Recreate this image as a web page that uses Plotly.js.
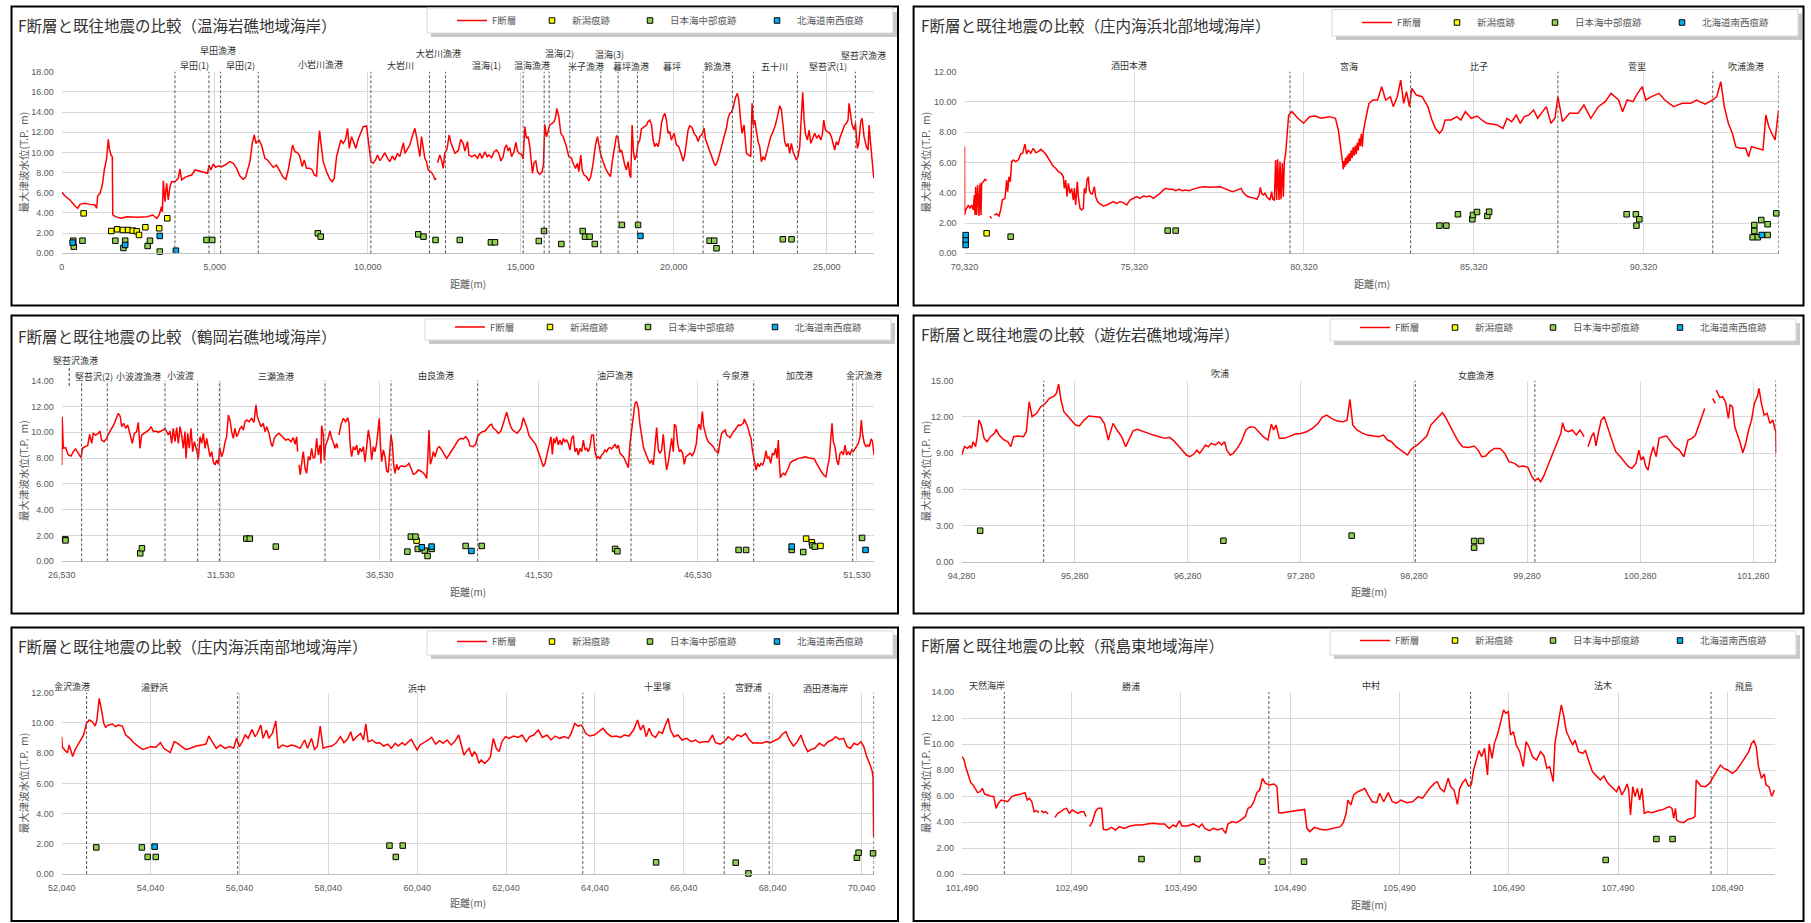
<!DOCTYPE html>
<html>
<head>
<meta charset="utf-8">
<script src="https://cdn.plot.ly/plotly-3.0.1.min.js"></script>
<style>
html, body { margin: 0; padding: 0; background: #ffffff; }
#chart { width: 1811px; height: 923px; }
</style>
</head>
<body>
<div id="chart"></div>
<script>
// ---------------------------------------------------------------
// Data: [distance (m), maximum tsunami level (T.P. m)]
// ---------------------------------------------------------------

// 温海岩礁地域海岸
const atsumiProfile = [[0,6.01],[20,6.01],[108,5.68],[271,5.28],[434,4.68],[521,4.46],[598,4.85],[761,4.95],[924,4.85],[1088,4.79],[1142,4.46],[1175,5.68],[1251,5.94],[1327,6.77],[1393,8.26],[1469,9.41],[1523,11.30],[1556,10.40],[1610,9.74],[1654,9.58],[1670,3.80],[1753,3.63],[1942,3.47],[2131,3.63],[2508,3.57],[2790,3.63],[2979,3.80],[3111,3.47],[3186,3.80],[3262,4.62],[3290,4.10],[3320,7.20],[3374,5.12],[3429,6.93],[3483,5.28],[3538,6.60],[3592,7.10],[3701,7.10],[3810,7.43],[3864,8.36],[3919,7.27],[4028,7.53],[4137,7.66],[4246,7.76],[4354,8.26],[4463,8.19],[4627,8.09],[4768,7.93],[4812,8.75],[4877,8.26],[4953,8.85],[5030,8.52],[5117,8.65],[5226,8.59],[5334,8.75],[5498,9.08],[5607,8.92],[5716,8.42],[5824,7.66],[5933,7.33],[6009,7.53],[6075,8.26],[6151,9.08],[6227,10.90],[6293,11.73],[6347,10.90],[6445,11.23],[6532,10.73],[6641,9.41],[6728,9.25],[6804,8.92],[6913,8.52],[7022,8.75],[7131,8.09],[7240,7.53],[7327,7.33],[7403,8.26],[7490,9.74],[7545,10.73],[7621,10.07],[7708,9.97],[7784,9.58],[7861,8.59],[7926,9.25],[8002,8.42],[8111,8.42],[8187,8.26],[8253,7.76],[8329,7.66],[8383,10.57],[8427,12.16],[8471,10.90],[8547,9.08],[8656,8.09],[8765,7.33],[8841,7.10],[8906,7.43],[8983,9.58],[9059,10.57],[9124,11.23],[9200,10.90],[9277,11.30],[9342,12.39],[9397,10.40],[9473,11.56],[9549,10.96],[9614,10.40],[9690,11.30],[9777,12.06],[9853,12.55],[9962,12.62],[10038,10.57],[10104,9.08],[10180,8.92],[10256,9.25],[10321,9.74],[10398,9.18],[10474,9.51],[10561,9.97],[10648,9.41],[10725,9.08],[10801,9.64],[10888,9.25],[10975,9.91],[11051,9.58],[11105,10.24],[11171,10.96],[11214,9.91],[11301,10.40],[11377,10.73],[11454,11.56],[11541,12.39],[11606,11.39],[11650,10.40],[11705,9.58],[11759,11.56],[11813,10.40],[11868,9.41],[11922,9.08],[11977,8.26],[12064,8.09],[12140,7.76],[12195,7.33],[12249,7.43],[12265,null],[12281,8.98],[12358,9.74],[12412,9.25],[12467,8.42],[12521,9.91],[12597,10.40],[12663,11.73],[12717,10.96],[12793,10.40],[12848,9.91],[12957,10.17],[13044,11.30],[13120,10.90],[13175,10.14],[13262,11.07],[13306,9.74],[13393,9.58],[13502,9.74],[13589,9.41],[13665,9.91],[13741,9.41],[13828,10.07],[13905,9.58],[13959,9.74],[14046,9.48],[14133,10.07],[14209,10.24],[14286,9.91],[14351,9.15],[14427,9.58],[14482,10.47],[14536,10.74],[14591,10.14],[14645,10.47],[14700,9.58],[14776,10.01],[14841,11.00],[14896,10.14],[14950,9.91],[15026,9.81],[15081,9.35],[15135,12.55],[15190,11.40],[15244,11.56],[15298,10.57],[15353,9.25],[15385,7.93],[15440,9.02],[15494,9.15],[15549,8.09],[15625,7.83],[15701,8.09],[15745,8.82],[15788,12.78],[15843,11.56],[15897,12.12],[15952,12.72],[16028,12.88],[16093,13.05],[16137,13.44],[16180,14.37],[16246,13.54],[16311,11.89],[16387,11.56],[16442,11.07],[16496,10.57],[16572,9.58],[16659,9.41],[16714,8.92],[16790,8.42],[16855,8.92],[16899,8.09],[16964,9.74],[17008,8.26],[17073,7.76],[17150,7.60],[17226,7.17],[17291,7.60],[17367,8.92],[17444,10.74],[17509,11.56],[17563,10.57],[17618,9.74],[17694,9.08],[17771,8.42],[17857,7.93],[17934,7.60],[17988,9.02],[18053,10.40],[18130,11.66],[18184,11.46],[18238,10.01],[18293,10.24],[18347,9.41],[18402,8.75],[18456,8.26],[18511,9.08],[18565,7.76],[18598,7.50],[18641,12.72],[18685,10.07],[18728,9.25],[18783,9.74],[18837,10.90],[18892,11.23],[18946,12.32],[19033,12.55],[19110,12.72],[19164,13.05],[19218,13.21],[19273,12.78],[19328,11.23],[19382,10.57],[19436,10.90],[19491,10.57],[19545,11.40],[19600,12.88],[19654,13.54],[19709,13.87],[19763,13.21],[19817,11.89],[19872,12.06],[19926,11.23],[20013,11.89],[20090,10.74],[20166,10.57],[20253,9.74],[20307,9.15],[20362,9.74],[20416,11.07],[20471,12.22],[20525,12.65],[20601,12.45],[20667,11.89],[20743,11.56],[20798,11.07],[20852,11.56],[20928,11.79],[20994,12.39],[21037,11.33],[21102,10.74],[21179,10.24],[21255,9.58],[21320,8.92],[21364,8.69],[21429,9.08],[21505,9.91],[21582,10.90],[21647,11.56],[21723,12.39],[21777,13.38],[21832,13.87],[21886,13.97],[21952,14.53],[22017,15.43],[22082,15.86],[22126,15.20],[22191,13.05],[22235,11.89],[22300,12.72],[22376,9.91],[22452,9.74],[22518,9.58],[22561,14.86],[22605,12.72],[22648,13.21],[22703,11.89],[22757,11.07],[22812,10.57],[22866,9.08],[22921,9.58],[22975,9.25],[23030,9.91],[23106,10.74],[23171,11.56],[23247,12.06],[23324,12.72],[23389,13.54],[23466,14.63],[23520,14.20],[23575,12.39],[23629,11.07],[23683,10.57],[23738,10.90],[23792,9.91],[23847,10.90],[23901,10.07],[23955,9.58],[24010,9.25],[24064,9.58],[24119,10.57],[24174,13.71],[24217,15.95],[24261,13.21],[24304,11.89],[24369,11.23],[24424,12.22],[24479,10.90],[24555,11.56],[24609,11.89],[24674,11.40],[24740,11.73],[24805,11.23],[24859,11.79],[24903,13.21],[24957,12.22],[25023,12.06],[25099,11.89],[25153,11.56],[25208,10.90],[25262,10.24],[25317,11.07],[25371,10.74],[25426,11.40],[25480,11.89],[25535,12.22],[25589,12.72],[25644,12.88],[25698,13.21],[25731,14.86],[25786,13.54],[25830,12.72],[25895,12.22],[25938,12.88],[26003,10.40],[26047,10.90],[26112,13.05],[26156,13.38],[26221,11.56],[26297,10.57],[26352,10.24],[26385,12.72],[26439,10.74],[26483,9.25],[26515,8.09],[26540,7.43]];
const atsumiNiigata = [[716,3.96],[1621,2.21],[1810,2.38],[1999,2.31],[2168,2.31],[2319,2.25],[2451,2.18],[2526,1.82],[2734,2.58],[3186,2.48],[3450,3.47]];
const atsumiChubu = [[377,1.25],[396,0.66],[679,1.25],[1753,1.25],[2017,0.53],[2074,1.25],[2809,0.73],[2885,1.25],[3205,0.17],[4732,1.32],[4921,1.32],[8371,1.98],[8466,1.65],[11652,1.88],[11822,1.65],[12217,1.32],[13009,1.32],[14027,1.09],[14160,1.09],[15592,1.22],[15762,2.21],[16328,0.92],[17025,2.21],[17101,1.65],[17252,1.65],[17421,0.92],[18307,2.81],[18835,2.81],[21173,1.25],[21324,1.25],[21399,0.50],[23568,1.39],[23851,1.39]];
const atsumiNansei = [[358,1.06],[2074,0.83],[3205,1.72],[3733,0.26],[18911,1.72]];
const atsumiBounds = [3701,4812,5193,6423,10104,12020,12543,15081,15767,15930,16605,17618,18184,18815,20961,21919,22605,24042,25937];
const atsumiPlaces = ['早田漁港','早田(1)','早田(2)','小岩川漁港','大岩川','大岩川漁港','温海(1)','温海漁港','温海(2)','米子漁港','温海(3)','暮坪漁港','暮坪','鈴漁港','五十川','堅苔沢(1)','堅苔沢漁港'];
const atsumiPlaceDist = [5109,4336,5845,8447,11086,12312,13877,15385,16271,17120,17911,18590,19948,21418,23285,25038,26207];

// 庄内海浜北部地域海岸
const northProfile = [[70320,7.05],[70325,2.53],[70354,2.86],[70394,3.08],[70433,3.19],[70482,2.97],[70531,3.19],[70580,2.86],[70610,3.85],[70629,2.53],[70649,4.40],[70678,2.53],[70708,4.51],[70747,2.46],[70777,4.62],[70806,2.53],[70826,4.62],[70875,4.73],[70924,4.89],[70973,4.80],[71020,null],[71071,2.46],[71120,2.31],[71160,null],[71199,2.53],[71268,2.60],[71336,2.46],[71385,2.86],[71434,3.52],[71513,3.63],[71562,4.84],[71592,4.07],[71631,5.06],[71670,4.73],[71709,6.06],[71759,6.17],[71827,6.06],[71906,6.17],[71975,6.56],[72033,6.61],[72102,7.22],[72151,6.56],[72200,6.83],[72269,6.61],[72348,6.94],[72416,6.65],[72495,6.72],[72573,6.87],[72642,6.72],[72711,6.56],[72790,6.28],[72868,5.95],[72937,5.73],[73006,5.62],[73084,5.40],[73163,5.30],[73232,5.06],[73261,4.29],[73300,4.84],[73340,3.74],[73379,4.62],[73428,3.96],[73477,4.29],[73526,3.52],[73556,4.29],[73595,3.19],[73644,4.73],[73674,3.74],[73723,2.97],[73772,2.86],[73821,2.97],[73850,4.29],[73889,3.96],[73929,4.84],[73968,5.06],[73998,4.18],[74037,3.96],[74086,3.92],[74145,4.40],[74184,3.74],[74243,3.41],[74312,3.26],[74410,3.13],[74508,3.19],[74607,3.30],[74705,3.41],[74803,3.30],[74901,3.41],[75000,3.35],[75097,3.19],[75196,3.52],[75294,3.63],[75392,3.74],[75490,3.63],[75588,3.79],[75687,3.74],[75785,3.79],[75883,3.63],[75981,3.79],[76079,3.96],[76178,4.18],[76246,4.29],[76344,4.23],[76442,4.23],[76541,4.14],[76639,4.23],[76737,4.14],[76836,4.18],[76934,4.14],[77032,4.23],[77130,4.29],[77258,4.36],[77405,4.40],[77552,4.36],[77700,4.36],[77847,4.40],[77975,4.29],[78092,4.18],[78210,4.07],[78308,4.14],[78407,4.23],[78466,4.29],[78534,4.01],[78603,3.85],[78682,3.74],[78780,3.70],[78878,3.63],[78937,3.57],[78996,3.85],[79035,4.36],[79074,3.96],[79124,3.85],[79173,3.96],[79222,3.74],[79271,3.63],[79320,3.52],[79369,4.07],[79399,3.57],[79448,3.52],[79487,6.17],[79516,3.52],[79546,6.21],[79585,3.52],[79615,6.06],[79644,3.57],[79683,5.95],[79713,3.74],[79742,6.06],[79782,6.61],[79811,7.49],[79840,8.04],[79869,9.14],[79971,9.36],[80056,9.14],[80141,8.92],[80311,8.59],[80482,9.03],[80652,9.07],[80822,8.92],[81077,9.03],[81247,8.92],[81333,8.15],[81412,6.94],[81461,5.95],[81480,5.55],[81500,6.10],[81520,5.70],[81545,6.30],[81570,5.85],[81600,6.45],[81625,5.95],[81650,6.60],[81680,6.10],[81710,6.80],[81740,6.30],[81770,7.00],[81800,6.45],[81830,7.10],[81860,6.55],[81890,7.30],[81920,6.80],[81950,7.60],[81980,7.10],[82010,7.90],[82040,7.05],[82070,8.04],[82133,8.81],[82235,9.91],[82354,10.13],[82490,10.13],[82609,11.01],[82728,10.13],[82865,10.35],[82950,9.69],[83069,10.35],[83171,11.45],[83256,9.91],[83341,10.68],[83426,9.69],[83494,10.90],[83630,10.46],[83801,10.35],[83971,9.69],[84090,8.81],[84192,8.26],[84311,7.93],[84396,8.15],[84481,8.81],[84652,8.81],[84822,9.03],[84941,8.81],[85077,9.36],[85247,8.92],[85418,9.07],[85588,8.76],[85707,8.59],[85843,8.54],[86013,8.48],[86184,8.26],[86303,8.92],[86439,8.70],[86575,9.14],[86694,8.59],[86813,9.03],[86950,9.14],[87086,9.47],[87205,8.92],[87324,9.25],[87460,9.69],[87596,8.59],[87715,8.92],[87801,10.35],[87937,8.70],[88141,9.25],[88396,9.25],[88567,9.80],[88771,8.92],[88992,9.69],[89196,10.02],[89366,10.57],[89588,10.13],[89707,9.36],[89843,10.13],[90013,10.02],[90149,10.57],[90286,11.01],[90388,10.13],[90558,10.35],[90779,10.57],[90950,10.13],[91205,9.69],[91460,9.91],[91715,9.91],[91886,10.13],[92141,9.86],[92362,10.13],[92481,10.35],[92601,11.34],[92703,9.69],[92822,8.59],[92941,7.93],[93043,7.05],[93162,6.94],[93332,6.94],[93418,6.38],[93503,7.05],[93673,6.94],[93843,6.83],[93928,9.14],[94013,8.37],[94099,7.93],[94200,7.49],[94300,9.47]];
const northNiigata = [[70973,1.32]];
const northChubu = [[71680,1.10],[76305,1.50],[76541,1.50],[84311,1.83],[84515,1.83],[84856,2.58],[85281,2.25],[85298,2.53],[85418,2.73],[85724,2.47],[85775,2.75],[89826,2.58],[90098,2.58],[90200,2.25],[90115,1.83],[93588,1.87],[93792,2.20],[93979,1.92],[93588,1.48],[93537,1.06],[93690,1.06],[93979,1.21],[94235,2.64]];
const northNansei = [[70354,1.20],[70354,0.85],[70354,0.55],[93809,1.21]];
const northBounds = [79909,83462,87801,92364,94300];
const northPlaces = ['酒田本港','宮海','比子','菅里','吹浦漁港'];
const northPlaceDist = [75170,81659,85488,90132,93352];

// 鶴岡岩礁地域海岸
const tsuruokaProfile = [[26532,7.47],[26545,11.21],[26581,8.76],[26654,8.81],[26738,8.24],[26822,8.16],[26895,8.50],[26969,8.71],[27053,8.37],[27136,8.03],[27189,8.76],[27262,8.89],[27346,8.96],[27409,9.84],[27472,9.14],[27524,9.92],[27597,9.79],[27681,9.92],[27734,10.10],[27786,9.40],[27860,9.27],[27943,9.53],[27996,9.84],[28048,10.05],[28101,10.31],[28163,10.57],[28226,10.95],[28310,11.47],[28373,11.21],[28415,10.44],[28478,10.70],[28541,10.31],[28604,10.57],[28677,9.84],[28750,9.14],[28813,9.92],[28887,10.05],[28939,10.77],[28991,8.76],[29044,9.79],[29128,9.92],[29201,10.05],[29274,10.18],[29337,10.44],[29411,10.05],[29484,10.10],[29568,10.00],[29652,10.10],[29725,10.18],[29777,10.31],[29840,10.05],[29882,9.79],[29935,10.10],[29987,9.14],[30039,10.31],[30092,9.27],[30144,10.36],[30197,9.14],[30249,10.44],[30301,9.79],[30354,8.76],[30406,10.05],[30438,7.98],[30490,9.92],[30542,8.76],[30595,10.31],[30647,8.50],[30700,9.27],[30773,8.63],[30825,7.93],[30878,9.66],[30930,9.14],[30983,9.92],[31035,8.76],[31088,9.53],[31140,8.89],[31192,8.11],[31245,8.50],[31297,7.72],[31349,7.47],[31402,7.85],[31454,7.52],[31496,8.81],[31559,8.11],[31611,8.50],[31664,9.22],[31716,9.66],[31769,11.34],[31821,10.95],[31873,10.05],[31926,9.53],[31978,10.31],[32031,9.66],[32083,9.92],[32136,10.31],[32188,10.44],[32240,10.18],[32293,10.82],[32345,10.95],[32418,10.82],[32502,11.08],[32575,10.77],[32638,12.12],[32680,11.21],[32733,10.82],[32796,10.44],[32869,10.70],[32921,10.05],[32974,10.44],[33047,9.92],[33110,9.14],[33152,8.89],[33215,9.53],[33288,9.79],[33361,9.92],[33424,9.74],[33498,9.53],[33571,9.40],[33655,9.48],[33739,9.27],[33812,9.58],[33865,9.07],[33917,9.66],[33948,8.50],[33970,null],[33990,7.47],[34032,6.69],[34074,7.59],[34127,8.50],[34179,7.21],[34231,6.82],[34284,8.11],[34336,7.85],[34389,8.76],[34441,7.98],[34493,8.11],[34546,9.53],[34598,8.24],[34651,9.01],[34682,7.59],[34703,10.51],[34755,9.79],[34787,7.85],[34829,9.01],[34892,9.40],[34965,10.10],[35017,9.53],[35080,9.14],[35122,8.76],[35175,9.14],[35206,8.76],[35227,null],[35248,9.79],[35311,10.57],[35384,11.08],[35457,10.82],[35521,11.13],[35562,10.70],[35604,8.89],[35646,8.11],[35699,8.89],[35751,8.63],[35804,9.01],[35856,8.24],[35908,8.76],[35961,8.50],[36013,8.89],[36066,7.72],[36118,8.89],[36170,10.18],[36223,9.40],[36275,7.85],[36328,8.89],[36380,8.50],[36432,9.14],[36485,10.18],[36516,11.08],[36548,9.14],[36589,7.72],[36642,8.63],[36694,8.11],[36747,7.00],[36799,6.90],[36851,8.76],[36883,9.79],[36925,9.14],[36967,7.47],[37009,6.82],[37061,7.52],[37113,7.08],[37166,7.34],[37218,7.41],[37302,7.34],[37375,7.41],[37449,7.59],[37511,7.21],[37585,6.74],[37658,6.82],[37742,7.08],[37815,7.00],[37878,6.90],[37952,6.69],[38004,6.43],[38036,7.85],[38077,10.18],[38119,7.52],[38161,7.85],[38213,8.50],[38266,8.11],[38341,8.76],[38402,8.89],[38476,8.63],[38560,8.24],[38633,7.98],[38706,8.24],[38770,8.50],[38842,8.76],[38926,9.14],[38999,9.40],[39084,9.53],[39157,9.48],[39230,9.66],[39314,9.40],[39366,8.94],[39471,8.89],[39544,9.07],[39607,9.66],[39681,9.92],[39754,10.05],[39838,10.10],[39922,10.36],[39995,10.57],[40047,10.62],[40100,10.31],[40173,10.18],[40257,9.92],[40341,10.10],[40414,10.70],[40467,11.08],[40519,11.55],[40571,11.08],[40645,10.44],[40708,10.18],[40781,10.05],[40844,9.92],[40907,10.10],[40970,10.31],[41043,11.13],[41095,10.77],[41148,10.44],[41221,9.74],[41284,9.53],[41357,9.33],[41431,9.07],[41515,8.50],[41567,8.11],[41619,7.67],[41672,7.34],[41724,7.59],[41777,8.24],[41829,8.89],[41881,9.40],[41913,9.66],[41955,8.29],[41997,9.53],[42039,9.14],[42091,9.66],[42143,9.01],[42196,9.40],[42248,9.01],[42301,9.53],[42353,9.27],[42405,9.40],[42458,9.14],[42510,8.63],[42562,9.53],[42615,9.74],[42667,8.50],[42720,8.76],[42772,8.24],[42825,8.76],[42877,8.50],[42929,9.40],[42982,8.63],[43034,8.76],[43087,8.50],[43139,8.89],[43191,9.79],[43244,9.79],[43296,8.50],[43349,7.98],[43401,8.11],[43453,7.93],[43506,8.24],[43558,8.37],[43611,8.63],[43663,8.50],[43716,8.76],[43768,8.81],[43820,8.71],[43873,8.89],[43925,9.07],[43977,8.76],[44030,9.01],[44082,8.37],[44135,8.24],[44187,8.11],[44239,7.85],[44292,7.59],[44344,7.26],[44397,9.14],[44449,10.18],[44501,10.95],[44554,12.25],[44606,12.38],[44659,11.86],[44711,10.57],[44763,9.53],[44816,8.89],[44868,8.50],[44920,8.11],[44973,7.85],[45025,7.59],[45078,7.85],[45130,7.47],[45182,8.76],[45235,10.36],[45287,8.63],[45340,8.37],[45392,8.63],[45444,9.84],[45497,8.24],[45549,7.08],[45602,7.72],[45654,8.50],[45706,9.53],[45759,8.50],[45790,10.62],[45843,10.44],[45895,9.14],[45948,8.50],[46000,8.63],[46052,8.37],[46105,7.52],[46157,8.11],[46210,8.24],[46283,8.37],[46356,8.19],[46419,8.50],[46482,9.14],[46524,10.31],[46566,10.62],[46618,10.18],[46671,11.60],[46713,10.44],[46755,10.05],[46807,9.53],[46860,9.27],[46912,9.14],[46964,9.01],[47017,8.89],[47069,8.63],[47121,8.50],[47174,8.37],[47226,9.27],[47279,9.92],[47331,10.05],[47383,10.18],[47436,9.79],[47488,9.66],[47541,9.58],[47593,9.79],[47645,10.05],[47698,10.18],[47750,10.36],[47803,10.57],[47855,10.51],[47907,10.62],[47960,10.70],[47991,11.03],[48044,10.70],[48096,10.44],[48148,9.92],[48201,9.53],[48243,8.63],[48285,8.11],[48327,7.47],[48358,7.08],[48411,7.59],[48463,7.34],[48515,7.59],[48568,7.47],[48620,7.85],[48672,8.55],[48715,7.98],[48767,8.11],[48819,7.59],[48872,8.37],[48924,8.24],[48976,8.76],[49018,7.98],[49060,9.40],[49092,7.59],[49123,6.48],[49165,6.69],[49217,6.82],[49270,6.69],[49322,6.90],[49374,7.21],[49427,7.59],[49500,7.78],[49584,7.85],[49689,7.98],[49794,8.03],[49899,8.11],[50003,8.03],[50108,7.98],[50193,7.93],[50262,7.59],[50339,7.21],[50423,6.90],[50506,6.64],[50558,6.56],[50611,7.34],[50663,7.98],[50706,9.40],[50748,10.70],[50789,9.27],[50842,8.89],[50894,7.85],[50947,7.47],[50999,8.37],[51052,8.50],[51104,8.24],[51156,9.01],[51209,8.24],[51261,8.50],[51314,8.24],[51366,8.63],[51418,8.50],[51471,8.76],[51523,8.89],[51575,9.14],[51628,9.66],[51670,10.95],[51712,9.79],[51764,9.14],[51817,8.89],[51869,9.01],[51922,8.89],[51974,9.48],[52016,9.33],[52050,8.63],[52070,8.24]];
const tsuruokaNiigata = [[37687,1.60],[37960,-0.10],[49933,1.76],[50114,1.47],[50386,1.19]];
const tsuruokaChubu = [[26639,1.70],[26650,1.62],[29000,0.62],[29052,1.01],[32335,1.76],[32444,1.76],[33261,1.14],[37506,1.91],[37651,1.91],[37397,0.75],[37724,0.96],[37941,0.83],[38032,0.41],[38159,0.96],[39229,1.19],[39737,1.19],[43928,0.96],[44000,0.78],[47811,0.88],[48047,0.88],[49480,0.88],[49843,0.72],[50132,1.24],[50205,1.14],[51693,1.81]];
const tsuruokaNansei = [[37851,1.09],[38159,1.14],[39411,0.80],[49480,1.14],[51802,0.88]];
const tsuruokaBounds = [27157,27964,29777,30804,31486,34808,36883,39607,43349,44428,47153,48285,51397];
const tsuruokaPlaces = ['堅苔沢漁港','堅苔沢(2)','小波渡漁港','小波渡','三瀬漁港','由良漁港','油戸漁港','今泉港','加茂港','金沢漁港'];
const tsuruokaPlaceDist = [26948,27530,28944,30268,33261,38304,43928,47720,49716,51747];
const tsuruokaLeaderDist = [26766];

// 遊佐岩礁地域海岸
const yuzaProfile = [[94280,8.85],[94306,9.54],[94331,9.40],[94352,9.60],[94367,9.40],[94382,9.95],[94403,9.54],[94418,10.37],[94433,11.74],[94454,11.33],[94479,10.23],[94505,9.95],[94535,10.37],[94571,10.64],[94587,10.97],[94612,10.50],[94648,10.15],[94689,9.95],[94714,9.54],[94740,10.37],[94776,10.42],[94827,10.37],[94852,10.78],[94878,13.26],[94903,12.02],[94944,12.30],[94980,12.85],[95016,13.07],[95057,13.54],[95098,13.73],[95118,13.95],[95138,14.72],[95159,13.40],[95184,12.43],[95210,12.16],[95246,11.74],[95287,11.33],[95322,11.25],[95363,11.74],[95404,12.08],[95455,12.02],[95506,11.97],[95542,11.47],[95578,10.09],[95593,10.64],[95619,11.47],[95654,10.92],[95695,10.37],[95731,9.54],[95757,10.09],[95797,10.86],[95833,10.97],[95884,10.78],[95925,10.64],[95976,10.50],[96027,10.37],[96079,10.23],[96119,10.31],[96155,10.04],[96191,9.68],[96232,9.26],[96268,8.85],[96298,8.71],[96334,8.93],[96360,9.26],[96385,8.99],[96411,9.32],[96436,9.68],[96462,9.54],[96487,9.82],[96523,9.68],[96554,9.93],[96579,9.68],[96605,9.95],[96625,9.26],[96656,8.85],[96681,8.99],[96717,9.40],[96753,9.95],[96794,10.92],[96830,11.19],[96871,11.14],[96906,10.78],[96947,10.37],[96988,10.09],[97019,11.41],[97039,10.92],[97060,11.33],[97090,10.23],[97126,10.23],[97177,10.37],[97228,10.59],[97279,10.64],[97330,10.78],[97382,11.06],[97433,11.47],[97468,11.97],[97509,12.16],[97550,11.88],[97601,11.66],[97652,11.61],[97688,11.74],[97714,13.45],[97739,11.33],[97775,10.92],[97816,10.70],[97867,10.50],[97918,10.42],[97969,10.37],[98010,10.50],[98046,10.09],[98081,9.95],[98122,9.54],[98163,9.26],[98199,9.04],[98224,8.85],[98250,9.26],[98276,9.48],[98311,9.68],[98352,10.09],[98393,10.42],[98429,11.33],[98470,11.74],[98505,12.02],[98531,12.35],[98557,12.02],[98592,11.33],[98633,10.64],[98674,9.95],[98710,9.54],[98761,9.48],[98812,9.60],[98848,9.26],[98879,8.71],[98914,8.77],[98950,9.13],[98991,9.40],[99042,9.40],[99083,8.99],[99119,8.30],[99170,8.16],[99206,7.89],[99246,7.94],[99287,7.83],[99323,7.06],[99349,6.73],[99379,6.92],[99400,6.64],[99425,7.06],[99461,7.89],[99502,8.85],[99543,9.82],[99579,10.64],[99594,11.52],[99614,10.92],[99645,10.78],[99681,10.92],[99716,10.50],[99747,10.92],[99768,10.64],[99783,10.37],[99800,null],[99819,9.54],[99849,10.37],[99870,10.70],[99890,9.60],[99910,10.64],[99936,11.74],[99962,12.02],[99987,11.33],[100023,10.23],[100064,9.13],[100105,8.71],[100141,8.30],[100176,7.89],[100207,7.75],[100243,8.16],[100268,9.26],[100289,8.44],[100309,8.71],[100330,7.89],[100350,7.61],[100371,8.71],[100396,9.54],[100422,8.71],[100447,10.23],[100483,10.37],[100514,10.42],[100549,9.95],[100585,9.54],[100626,9.26],[100667,8.71],[100703,10.09],[100738,10.23],[100769,10.50],[100805,11.47],[100830,12.30],[100851,12.71],[100880,null],[100922,13.54],[100943,13.13],[100948,null],[100953,14.23],[100984,13.62],[101009,13.68],[101035,13.26],[101060,11.88],[101076,12.99],[101096,12.85],[101117,11.19],[101137,10.64],[101162,9.95],[101188,9.04],[101214,9.82],[101239,10.92],[101265,11.74],[101290,13.12],[101316,13.68],[101331,14.36],[101352,13.12],[101377,12.16],[101403,12.30],[101428,11.47],[101454,11.74],[101470,11.06],[101480,10.78],[101484,8.99]];
const yuzaNiigata = [];
const yuzaChubu = [[94444,2.59],[96595,1.76],[97729,2.18],[98812,1.74],[98873,1.74],[98812,1.19]];
const yuzaNansei = [];
const yuzaBounds = [95006,98292,99349,101480];
const yuzaPlaces = ['吹浦','女鹿漁港'];
const yuzaPlaceDist = [96566,98831];

// 庄内海浜南部地域海岸
const southProfile = [[52040,9.09],[52053,8.43],[52105,8.21],[52170,8.03],[52209,8.54],[52248,8.10],[52287,7.77],[52339,8.21],[52404,8.54],[52469,8.87],[52534,9.20],[52598,9.97],[52663,10.19],[52728,10.08],[52793,9.79],[52832,10.19],[52884,11.63],[52936,10.85],[52988,9.97],[53027,9.71],[53092,9.86],[53183,9.93],[53248,9.75],[53313,9.86],[53404,9.79],[53482,9.20],[53572,8.98],[53663,8.69],[53767,8.43],[53871,8.25],[53962,8.32],[54053,8.43],[54157,8.38],[54261,8.69],[54339,8.32],[54417,8.16],[54482,8.03],[54572,8.76],[54650,8.65],[54741,8.43],[54832,8.25],[54936,8.32],[55066,8.47],[55196,8.54],[55287,8.60],[55352,9.13],[55430,8.76],[55520,8.32],[55611,8.54],[55715,8.32],[55819,8.43],[55910,8.32],[55975,8.98],[56040,8.43],[56105,8.76],[56170,9.20],[56235,8.98],[56326,9.57],[56391,9.09],[56443,9.31],[56521,9.86],[56572,8.98],[56650,9.53],[56702,8.98],[56780,9.31],[56858,10.13],[56910,8.32],[57014,8.54],[57118,8.43],[57209,8.54],[57300,8.47],[57404,8.32],[57508,8.87],[57572,8.32],[57663,8.98],[57728,8.25],[57793,8.43],[57858,9.79],[57923,8.32],[58027,8.43],[58118,8.47],[58209,8.65],[58313,9.09],[58391,8.69],[58469,8.91],[58546,9.42],[58598,8.82],[58676,9.09],[58767,9.31],[58832,8.87],[58884,9.93],[58936,8.76],[59027,8.87],[59118,8.65],[59196,8.69],[59287,8.47],[59378,8.60],[59456,8.32],[59546,8.65],[59611,8.47],[59702,8.69],[59767,8.54],[59845,8.76],[59910,8.91],[59975,8.54],[60040,8.21],[60105,8.54],[60196,8.69],[60287,8.87],[60365,9.04],[60456,8.60],[60546,8.82],[60624,8.65],[60715,8.87],[60806,8.54],[60884,8.76],[60975,9.20],[61040,8.47],[61092,7.88],[61144,8.10],[61209,8.32],[61274,7.77],[61326,8.10],[61378,7.88],[61430,7.32],[61482,7.55],[61560,7.32],[61638,7.55],[61689,7.77],[61754,8.98],[61819,8.32],[61884,8.10],[61949,8.76],[62027,9.09],[62105,8.98],[62209,9.13],[62313,9.04],[62404,9.20],[62494,8.76],[62572,9.09],[62663,9.20],[62767,9.53],[62858,9.04],[62962,9.20],[63053,8.87],[63144,9.13],[63248,8.98],[63352,9.09],[63443,8.98],[63507,9.31],[63585,9.97],[63663,9.79],[63741,9.86],[63832,9.31],[63923,9.13],[64027,9.20],[64131,9.42],[64222,9.64],[64313,9.31],[64417,9.09],[64521,9.13],[64612,9.04],[64702,9.20],[64806,9.13],[64910,9.53],[65001,10.19],[65066,9.53],[65131,9.86],[65196,9.09],[65261,9.64],[65326,9.20],[65404,9.04],[65482,9.42],[65559,9.31],[65611,9.75],[65689,10.30],[65741,9.53],[65819,9.09],[65910,9.20],[66001,8.87],[66105,8.98],[66209,8.76],[66300,8.87],[66391,8.69],[66494,8.76],[66598,8.76],[66689,9.20],[66754,8.69],[66858,8.60],[66949,8.76],[67040,9.09],[67144,8.87],[67248,9.20],[67339,9.09],[67430,9.31],[67507,8.91],[67598,8.65],[67689,8.69],[67793,8.65],[67897,8.76],[67988,8.69],[68079,8.82],[68183,8.98],[68261,9.27],[68339,9.42],[68417,8.87],[68507,8.47],[68598,8.76],[68676,9.20],[68754,8.54],[68832,8.10],[68910,8.25],[68988,8.32],[69092,8.65],[69196,8.47],[69287,8.76],[69378,8.87],[69456,9.09],[69546,8.91],[69637,8.98],[69715,8.43],[69793,8.32],[69871,8.65],[69949,8.54],[70027,8.76],[70092,8.43],[70157,7.77],[70222,7.32],[70274,6.88],[70300,6.44],[70313,2.47]];
const southNiigata = [];
const southChubu = [[52819,1.76],[53845,1.76],[53975,1.13],[54157,1.13],[59417,1.88],[59715,1.88],[59559,1.13],[65417,0.77],[67209,0.75],[67495,0.04],[69936,1.08],[69975,1.41],[70300,1.37]];
const southNansei = [[54131,1.81]];
const southBounds = [52600,56001,63768,66950,67963,70320];
const southPlaces = ['金沢漁港','湯野浜','浜中','十里塚','宮野浦','酒田港海岸'];
const southPlaceDist = [52274,54120,60041,65456,67495,69223];

// 飛島東地域海岸
const tobishimaProfile = [[101490,9.03],[101506,8.82],[101527,8.13],[101548,7.49],[101569,7.03],[101590,6.85],[101611,6.59],[101632,6.26],[101654,6.33],[101675,6.59],[101696,6.15],[101717,6.08],[101748,6.00],[101780,5.95],[101801,5.05],[101822,5.44],[101849,5.69],[101875,5.64],[101907,5.56],[101944,5.95],[101981,6.08],[102023,6.13],[102065,6.26],[102086,5.69],[102107,5.82],[102128,5.56],[102149,4.79],[102170,4.87],[102192,4.72],[102202,null],[102213,4.87],[102234,4.72],[102255,4.79],[102276,4.62],[102300,null],[102339,4.36],[102366,4.67],[102392,4.79],[102418,4.97],[102445,5.05],[102471,4.67],[102498,4.92],[102524,4.79],[102550,4.67],[102577,4.79],[102603,4.79],[102624,4.41],[102640,null],[102656,3.64],[102682,4.03],[102709,4.79],[102735,5.05],[102767,5.05],[102782,3.44],[102814,3.38],[102856,3.59],[102893,3.38],[102930,3.64],[102972,3.51],[103025,3.69],[103078,3.77],[103131,3.77],[103183,3.85],[103236,3.90],[103289,3.85],[103342,3.85],[103384,3.51],[103421,3.77],[103447,3.64],[103479,4.10],[103500,3.69],[103553,3.69],[103605,3.85],[103658,3.59],[103684,3.85],[103711,3.51],[103753,3.33],[103790,3.51],[103827,3.38],[103869,3.51],[103901,3.13],[103922,3.85],[103959,4.03],[103999,3.95],[104038,4.15],[104080,4.41],[104106,5.05],[104133,5.18],[104159,5.56],[104186,6.26],[104212,6.46],[104238,7.36],[104265,6.97],[104302,6.85],[104344,6.92],[104370,6.72],[104386,4.72],[104423,4.72],[104476,4.79],[104528,4.85],[104597,4.92],[104623,4.97],[104644,3.51],[104671,3.26],[104713,3.59],[104766,3.44],[104818,3.38],[104898,3.51],[104950,3.64],[104977,3.95],[105003,4.67],[105019,5.69],[105046,5.31],[105072,6.08],[105109,6.33],[105146,6.46],[105172,6.59],[105204,6.08],[105241,5.56],[105283,5.49],[105309,6.21],[105346,5.56],[105388,6.26],[105425,5.56],[105462,5.44],[105504,5.69],[105557,5.49],[105610,5.56],[105663,5.95],[105700,5.82],[105731,6.21],[105768,6.59],[105810,6.97],[105837,7.10],[105863,6.59],[105900,6.33],[105937,7.36],[105958,6.72],[105990,6.46],[106021,5.36],[106042,6.59],[106074,7.10],[106095,7.28],[106122,6.77],[106148,6.85],[106169,8.00],[106190,8.64],[106217,9.49],[106243,9.03],[106269,9.67],[106296,7.62],[106312,10.00],[106338,8.90],[106359,10.05],[106391,10.82],[106417,11.72],[106443,12.62],[106464,12.36],[106486,12.49],[106507,10.69],[106533,10.95],[106559,9.92],[106591,9.41],[106623,8.26],[106649,10.18],[106675,9.79],[106707,9.03],[106744,8.77],[106781,9.41],[106813,9.08],[106839,8.13],[106865,8.26],[106897,7.10],[106913,10.05],[106939,11.33],[106971,13.00],[106992,12.23],[107018,10.95],[107045,10.44],[107076,9.92],[107097,10.31],[107129,9.41],[107166,9.28],[107192,9.49],[107219,8.77],[107256,7.87],[107298,7.49],[107329,7.23],[107361,7.54],[107388,7.10],[107414,6.85],[107446,6.59],[107477,6.33],[107498,6.77],[107525,6.08],[107551,6.46],[107572,6.92],[107588,6.46],[107604,4.54],[107625,6.72],[107646,5.95],[107667,6.59],[107688,5.69],[107709,6.59],[107730,4.67],[107762,4.79],[107799,4.72],[107852,4.87],[107904,4.97],[107957,5.18],[107984,5.05],[107999,4.28],[108015,5.05],[108026,4.15],[108047,4.03],[108089,3.95],[108131,4.21],[108168,4.28],[108194,4.41],[108205,7.23],[108247,6.77],[108289,6.72],[108326,6.97],[108363,7.49],[108395,8.00],[108426,8.38],[108458,8.13],[108491,8.00],[108537,7.74],[108574,8.00],[108617,8.51],[108659,9.03],[108686,9.41],[108712,10.05],[108733,10.26],[108754,9.79],[108775,8.26],[108802,7.36],[108828,7.69],[108844,6.85],[108870,6.72],[108895,6.00],[108910,6.21],[108918,6.46]];
const tobishimaNiigata = [];
const tobishimaChubu = [[103131,1.15],[103642,1.15],[104238,0.95],[104618,0.95],[107377,1.08],[107841,2.69],[107989,2.69]];
const tobishimaNansei = [];
const tobishimaBounds = [101876,104296,106141,108341];
const tobishimaPlaces = ['天然海岸','勝浦','中村','法木','飛島'];
const tobishimaPlaceDist = [101718,103037,105230,107350,108638];

const seriesNames = ['F断層', '新潟痕跡', '日本海中部痕跡', '北海道南西痕跡'];

// ---------------------------------------------------------------
// Page geometry (pixels) and styling
// ---------------------------------------------------------------
const W = 1811, H = 923;
const fx = v => v / W;
const fy = v => 1 - v / H;
const JP = 'Noto Sans CJK JP, Noto Sans, sans-serif';
const NUM = 'Liberation Sans, Arial, sans-serif';
const GREY = '#595959';
const markerColors = ['#ffff00', '#92d050', '#00b0f0'];

const panels = [
  { title: 'F断層と既往地震の比較（温海岩礁地域海岸）',
    profile: atsumiProfile, marks: [atsumiNiigata, atsumiChubu, atsumiNansei],
    bounds: atsumiBounds, places: atsumiPlaces, placeDist: atsumiPlaceDist,
    placeY: [50,65,65,64.5,65,53,65.5,65.5,53.5,66,54.5,66,66.5,66.5,66.5,66.5,55],
    xRange: [0, 26546], tick0: 0, xStep: 5000, yMax: 18, yStep: 2,
    box: [11.5, 6.5, 898, 305.5], plot: [61.7, 71.7, 874, 253.3],
    titlePos: [16, 25], legendBox: [427, 8, 893, 33], legendY: 20.5,
    yTitleX: 23, xTitleY: 283 },
  { title: 'F断層と既往地震の比較（庄内海浜北部地域海岸）',
    profile: northProfile, marks: [northNiigata, northChubu, northNansei],
    bounds: northBounds, places: northPlaces, placeDist: northPlaceDist,
    placeY: [65, 66, 66.5, 66, 66],
    xRange: [70320, 94303], tick0: 70320, xStep: 5000, yMax: 12, yStep: 2,
    box: [913.6, 6.5, 1803.5, 305.5], plot: [964.5, 71.7, 1778.6, 253.3],
    titlePos: [919.4, 25], legendBox: [1332, 9.5, 1798, 36], legendY: 22.5,
    yTitleX: 925, xTitleY: 283 },
  { title: 'F断層と既往地震の比較（鶴岡岩礁地域海岸）',
    profile: tsuruokaProfile, marks: [tsuruokaNiigata, tsuruokaChubu, tsuruokaNansei],
    bounds: tsuruokaBounds, places: tsuruokaPlaces, placeDist: tsuruokaPlaceDist,
    placeY: [360, 376, 376, 375, 376, 375, 375, 375, 375, 375],
    leaders: tsuruokaLeaderDist, leaderY: [366, 386],
    xRange: [26530, 52074], tick0: 26530, xStep: 5000, yMax: 14, yStep: 2,
    box: [11.5, 315.5, 898, 613.5], plot: [61.7, 380.7, 874.2, 561.3],
    titlePos: [16, 336], legendBox: [425, 319, 891, 340], legendY: 327,
    yTitleX: 23, xTitleY: 591.5 },
  { title: 'F断層と既往地震の比較（遊佐岩礁地域海岸）',
    profile: yuzaProfile, marks: [yuzaNiigata, yuzaChubu, yuzaNansei],
    bounds: yuzaBounds, places: yuzaPlaces, placeDist: yuzaPlaceDist,
    placeY: [373, 375],
    xRange: [94280, 101484], tick0: 94280, xStep: 1000, yMax: 15, yStep: 3,
    box: [913.6, 315.5, 1803.5, 613.5], plot: [961.6, 380.7, 1776.3, 562],
    titlePos: [919.4, 334], legendBox: [1330, 319, 1796, 341], legendY: 327.5,
    yTitleX: 925, xTitleY: 591 },
  { title: 'F断層と既往地震の比較（庄内海浜南部地域海岸）',
    profile: southProfile, marks: [southNiigata, southChubu, southNansei],
    bounds: southBounds, places: southPlaces, placeDist: southPlaceDist,
    placeY: [686, 687, 688, 686, 687, 688],
    xRange: [52040, 70326], tick0: 52040, xStep: 2000, yMax: 12, yStep: 2,
    box: [11.5, 627.5, 898, 921], plot: [61.7, 692.7, 874.2, 874],
    titlePos: [16, 646], legendBox: [427, 631, 893, 655], legendY: 641.5,
    yTitleX: 23, xTitleY: 902.5 },
  { title: 'F断層と既往地震の比較（飛島東地域海岸）',
    profile: tobishimaProfile, marks: [tobishimaNiigata, tobishimaChubu, tobishimaNansei],
    bounds: tobishimaBounds, places: tobishimaPlaces, placeDist: tobishimaPlaceDist,
    placeY: [685, 686, 685, 685, 686],
    xRange: [101490, 108925], tick0: 101490, xStep: 1000, yMax: 14, yStep: 2,
    box: [913.6, 627.5, 1803.5, 921], plot: [962.1, 692, 1774.9, 874],
    titlePos: [919.4, 645], legendBox: [1330, 631, 1796, 655], legendY: 640.5,
    yTitleX: 925, xTitleY: 904 }
];

// offsets of the four legend entries from the left edge of each legend box
const legendEntryOffsets = [25, 105, 203, 330];

const traces = [];
const shapes = [];
const annotations = [];
const layout = {
  width: W, height: H,
  margin: { l: 0, r: 0, t: 0, b: 0, autoexpand: false },
  paper_bgcolor: '#ffffff', plot_bgcolor: '#ffffff',
  showlegend: true, hovermode: false,
  font: { family: JP, color: GREY }
};

let legendCount = 0;
const nextLegend = () => { legendCount += 1; return legendCount === 1 ? 'legend' : 'legend' + legendCount; };

panels.forEach((p, i) => {
  const n = i + 1;
  const xa = n === 1 ? 'x' : 'x' + n;
  const ya = n === 1 ? 'y' : 'y' + n;
  const [L, T, R, B] = p.plot;

  layout[n === 1 ? 'xaxis' : 'xaxis' + n] = {
    domain: [fx(L), fx(R)], anchor: ya, range: p.xRange,
    tick0: p.tick0, dtick: p.xStep, tickformat: ',d',
    showgrid: true, gridcolor: '#d9d9d9', gridwidth: 1,
    zeroline: false, showline: true, linecolor: '#bfbfbf', linewidth: 1,
    ticks: '', ticklabelstandoff: 5,
    tickfont: { family: NUM, size: 9, color: GREY }, fixedrange: true
  };
  layout[n === 1 ? 'yaxis' : 'yaxis' + n] = {
    domain: [fy(B), fy(T)], anchor: xa, range: [0, p.yMax],
    tick0: 0, dtick: p.yStep, tickformat: '.2f',
    showgrid: true, gridcolor: '#d9d9d9', gridwidth: 1,
    zeroline: false, showline: false, ticks: '', ticklabelstandoff: 7,
    tickfont: { family: NUM, size: 9, color: GREY }, fixedrange: true
  };

  // panel frame
  shapes.push({ type: 'rect', xref: 'paper', yref: 'paper',
    x0: fx(p.box[0]), x1: fx(p.box[2]), y0: fy(p.box[3]), y1: fy(p.box[1]),
    line: { color: '#000000', width: 2 }, layer: 'above' });

  // legend frame with drop shadow
  const [lx0, ly0, lx1, ly1] = p.legendBox;
  shapes.push({ type: 'rect', xref: 'paper', yref: 'paper',
    x0: fx(lx0 + 4), x1: fx(lx1 + 4), y0: fy(ly1 + 4), y1: fy(ly0 + 4),
    fillcolor: '#c9c9c9', line: { width: 0 }, layer: 'above' });
  shapes.push({ type: 'rect', xref: 'paper', yref: 'paper',
    x0: fx(lx0), x1: fx(lx1), y0: fy(ly1), y1: fy(ly0),
    fillcolor: '#ffffff', line: { color: '#d9d9d9', width: 1 }, layer: 'above' });

  const legendIds = [nextLegend(), nextLegend(), nextLegend(), nextLegend()];
  legendIds.forEach((id, k) => {
    layout[id] = {
      x: fx(lx0 + legendEntryOffsets[k]), y: fy(p.legendY),
      xanchor: 'left', yanchor: 'middle', orientation: 'h',
      bgcolor: 'rgba(0,0,0,0)', borderwidth: 0,
      font: { family: JP, size: 9.5, color: GREY }
    };
  });

  // wave height profile
  traces.push({
    type: 'scatter', mode: 'lines', name: seriesNames[0],
    x: p.profile.map(d => d[0]), y: p.profile.map(d => d[1]),
    xaxis: xa, yaxis: ya, legend: legendIds[0], connectgaps: false,
    line: { color: '#ff0000', width: 1.5 }
  });

  // historical tsunami trace heights
  p.marks.forEach((pts, k) => {
    traces.push({
      type: 'scatter', mode: 'markers', name: seriesNames[k + 1],
      x: pts.length ? pts.map(d => d[0]) : [null],
      y: pts.length ? pts.map(d => d[1]) : [null],
      xaxis: xa, yaxis: ya, legend: legendIds[k + 1], cliponaxis: false,
      marker: { symbol: 'square', size: 5.5, color: markerColors[k],
                line: { color: '#000000', width: 1 } }
    });
  });

  // section boundaries
  p.bounds.forEach(b => {
    shapes.push({ type: 'line', xref: xa, yref: ya + ' domain',
      x0: b, x1: b, y0: 0, y1: 1,
      line: { color: '#595959', width: 1, dash: '3px,2px' }, layer: 'above' });
  });
  (p.leaders || []).forEach(b => {
    shapes.push({ type: 'line', xref: xa, yref: 'paper',
      x0: b, x1: b, y0: fy(p.leaderY[1]), y1: fy(p.leaderY[0]),
      line: { color: '#404040', width: 1, dash: '3px,2px' }, layer: 'above' });
  });

  // section names
  p.places.forEach((name, k) => {
    annotations.push({ xref: xa, yref: 'paper', x: p.placeDist[k], y: fy(p.placeY[k]),
      text: name, showarrow: false, xanchor: 'center', yanchor: 'middle',
      font: { family: JP, size: 9, color: '#333333' } });
  });

  // panel title
  annotations.push({ xref: 'paper', yref: 'paper', x: fx(p.titlePos[0]), y: fy(p.titlePos[1]),
    text: p.title, showarrow: false, xanchor: 'left', yanchor: 'middle',
    font: { family: JP, size: 15.5, color: '#333333' } });

  // axis titles
  annotations.push({ xref: 'paper', yref: 'paper', x: fx(p.yTitleX), y: fy((T + B) / 2),
    text: '最大津波水位(T.P.  m)', textangle: -90, showarrow: false,
    xanchor: 'center', yanchor: 'middle',
    font: { family: JP, size: 10.5, color: GREY } });
  annotations.push({ xref: 'paper', yref: 'paper', x: fx((L + R) / 2), y: fy(p.xTitleY),
    text: '距離(m)', showarrow: false, xanchor: 'center', yanchor: 'middle',
    font: { family: JP, size: 10, color: GREY } });
});

layout.shapes = shapes;
layout.annotations = annotations;

Plotly.newPlot('chart', traces, layout, { staticPlot: true, displayModeBar: false });
</script>
</body>
</html>
